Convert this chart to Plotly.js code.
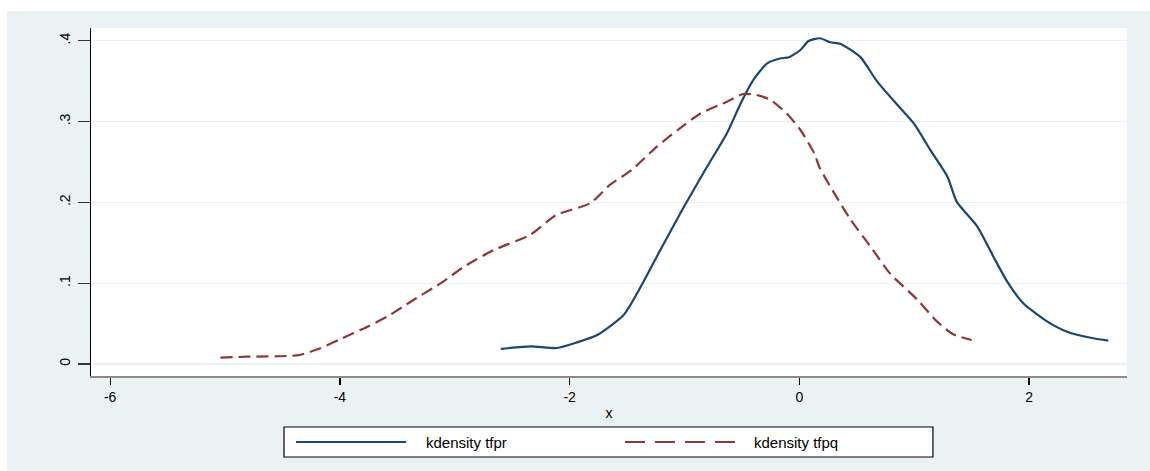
<!DOCTYPE html>
<html>
<head>
<meta charset="utf-8">
<script src="https://cdn.plot.ly/plotly-3.0.1.min.js"></script>
<style>html,body{margin:0;padding:0;background:#fff;}#chart{width:1150px;height:471px;}</style>
</head>
<body>
<div id="chart"></div>
<script>
// kdensity tfpr
const tfprX = [-2.60, -2.34, -2.11, -1.93, -1.76, -1.53, -1.38, -1.21, -1.03, -0.82, -0.63, -0.51, -0.40, -0.28, -0.17, -0.09, 0.01, 0.08, 0.18, 0.27, 0.36, 0.53, 0.68, 0.88, 1.00, 1.14, 1.29, 1.37, 1.55, 1.69, 1.81, 1.95, 2.16, 2.33, 2.56, 2.69];
const tfprY = [0.0186, 0.0219, 0.0198, 0.027, 0.0359, 0.0606, 0.0957, 0.141, 0.188, 0.240, 0.2855, 0.3226, 0.3515, 0.372, 0.378, 0.3795, 0.3885, 0.3996, 0.403, 0.398, 0.396, 0.380, 0.349, 0.3164, 0.297, 0.265, 0.2318, 0.2009, 0.170, 0.1328, 0.1019, 0.0751, 0.0524, 0.040, 0.0318, 0.0289];
// kdensity tfpq
const tfpqX = [-5.04, -4.81, -4.46, -4.35, -4.17, -4.00, -3.76, -3.59, -3.36, -3.10, -2.92, -2.66, -2.34, -2.12, -1.82, -1.65, -1.46, -1.24, -1.04, -0.86, -0.63, -0.49, -0.37, -0.25, -0.11, 0.01, 0.13, 0.18, 0.44, 0.62, 0.79, 1.03, 1.20, 1.34, 1.50];
const tfpqY = [0.0078, 0.009, 0.0099, 0.0111, 0.0194, 0.0305, 0.0462, 0.0585, 0.0792, 0.1019, 0.1204, 0.141, 0.160, 0.184, 0.199, 0.2215, 0.240, 0.2689, 0.2916, 0.310, 0.3245, 0.334, 0.3328, 0.3266, 0.310, 0.2895, 0.2607, 0.242, 0.180, 0.1452, 0.112, 0.0792, 0.0524, 0.0367, 0.0297];
const seriesNames = ["kdensity tfpr", "kdensity tfpq"];
const xTickVals = [-6, -4, -2, 0, 2];
const xTickText = ["-6", "-4", "-2", "0", "2"];
const yTickVals = [0, 0.1, 0.2, 0.3, 0.4];
const yTickText = ["0", ".1", ".2", ".3", ".4"];
const xTitle = "x";

const BLUE = "#1a476f", RED = "#90353b", BG = "#eaf2f3";
const FONT = "Liberation Sans, Arial, sans-serif";

const traces = [
  {x: tfprX, y: tfprY, type: "scatter", mode: "lines", name: seriesNames[0],
   line: {color: BLUE, width: 2.2, shape: "spline", smoothing: 0.6}, showlegend: false, hoverinfo: "skip"},
  {x: tfpqX, y: tfpqY, type: "scatter", mode: "lines", name: seriesNames[1],
   line: {color: RED, width: 2.2, dash: "12px,6px", shape: "spline", smoothing: 0.6}, showlegend: false, hoverinfo: "skip"}
];

const layout = {
  width: 1150, height: 471,
  margin: {l: 91, r: 23, t: 28, b: 95, pad: 0},
  paper_bgcolor: "#ffffff",
  plot_bgcolor: "#ffffff",
  font: {family: FONT, size: 14, color: "#000"},
  showlegend: false,
  xaxis: {
    range: [-6.167, 2.853], tickvals: xTickVals, ticktext: xTickText,
    showgrid: false, zeroline: false, showline: true, linecolor: "#8a8a8a", linewidth: 2,
    ticks: "outside", ticklen: 7, tickwidth: 1.3, tickcolor: "#000",
    tickfont: {family: FONT, size: 14, color: "#000"},
    title: {text: xTitle, font: {family: FONT, size: 14, color: "#000"}, standoff: 4}
  },
  yaxis: {
    range: [-0.01485, 0.4157], tickvals: yTickVals, ticktext: yTickText,
    showgrid: true, gridcolor: BG, gridwidth: 1.3, zeroline: false,
    showline: true, linecolor: "#000", linewidth: 1.3,
    ticks: "outside", ticklen: 12, tickwidth: 1.3, tickcolor: "#333",
    tickangle: -90, ticklabelstandoff: 2,
    tickfont: {family: FONT, size: 14, color: "#000"}
  },
  shapes: [
    {type: "rect", xref: "paper", yref: "paper", x0: -0.0811, x1: 1.03, y0: -0.28, y1: 1.0489,
     fillcolor: BG, line: {width: 0}, layer: "below"},
    {type: "rect", xref: "paper", yref: "paper", x0: 0, x1: 1, y0: 0, y1: 1,
     fillcolor: "#ffffff", line: {width: 0}, layer: "below"},
    {type: "rect", xref: "paper", yref: "paper", x0: 0.1863, x1: 0.8127, y0: -0.2328, y1: -0.1466,
     fillcolor: "#ffffff", line: {color: "#000", width: 1.2}},
    {type: "line", xref: "paper", yref: "paper", x0: 0.1979, x1: 0.3041, y0: -0.1897, y1: -0.1897,
     line: {color: BLUE, width: 2}},
    {type: "line", xref: "paper", yref: "paper", x0: 0.5154, x1: 0.6226, y0: -0.1897, y1: -0.1897,
     line: {color: RED, width: 2, dash: "20px,10px"}}
  ],
  annotations: [
    {xref: "paper", yref: "paper", x: 0.3214, y: -0.1897, xanchor: "left", yanchor: "middle",
     text: seriesNames[0], showarrow: false, font: {family: FONT, size: 15, color: "#000"}},
    {xref: "paper", yref: "paper", x: 0.638, y: -0.1897, xanchor: "left", yanchor: "middle",
     text: seriesNames[1], showarrow: false, font: {family: FONT, size: 15, color: "#000"}}
  ]
};

Plotly.newPlot("chart", traces, layout, {displayModeBar: false, staticPlot: true});
</script>
</body>
</html>
